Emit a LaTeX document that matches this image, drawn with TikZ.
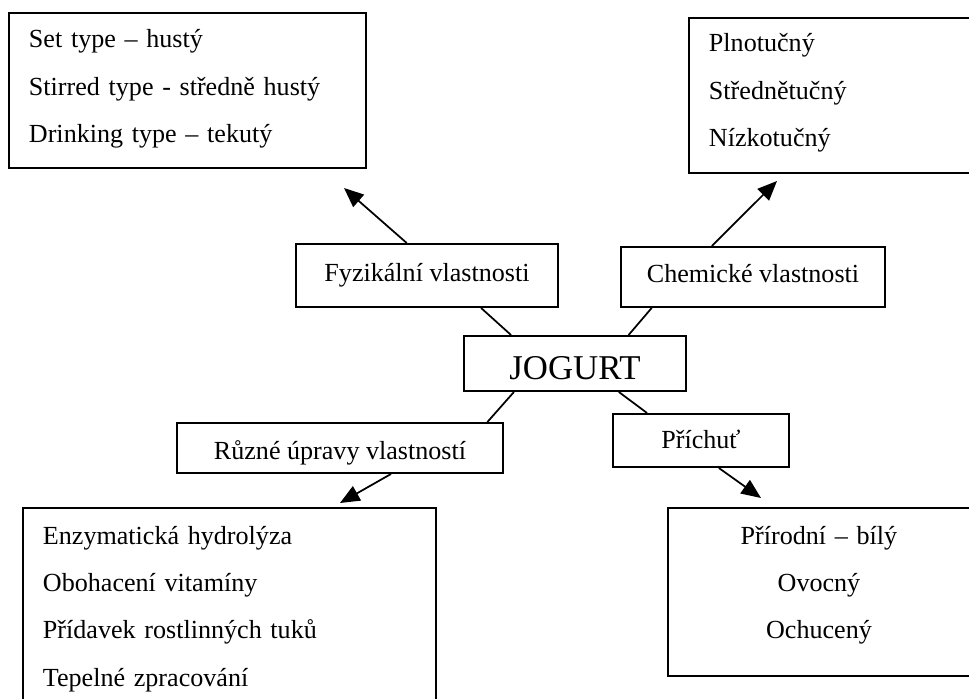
\documentclass[tikz,border=0pt]{standalone}
\usepackage{fontspec}
\setmainfont{Liberation Serif}
\usetikzlibrary{positioning,arrows.meta}

\begin{document}
\begin{tikzpicture}[x=0.46pt, y=-0.46pt,
    prop/.style={rectangle, draw, line width=0.9pt, align=center, inner sep=0pt, text height=8pt, text depth=2.6pt, font=\fontsize{12}{14}\selectfont},
    list/.style={rectangle, draw, line width=0.9pt, anchor=north west, inner xsep=9.2pt, inner ysep=0pt, font=\fontsize{12}{21.8}\selectfont},
    link/.style={line width=0.8pt},
    arrow/.style={-{Triangle[length=9pt, width=7.5pt]}, line width=0.8pt}]

    \clip (0,0) rectangle (969,699);

    % Centre and property boxes
    \node[prop, minimum width=102.1pt, minimum height=25.3pt, text height=14.7pt, text depth=0pt, font=\fontsize{16}{19}\selectfont] (jogurt) at (575,363.5) {JOGURT};
    \node[prop, minimum width=120.5pt, minimum height=29pt] (fyz) at (427,275.5) {Fyzikální vlastnosti};
    \node[prop, minimum width=121.4pt, minimum height=27.6pt] (chem) at (753,277) {Chemické vlastnosti};
    \node[prop, minimum width=150pt, minimum height=23pt, text height=13.5pt] (upravy) at (340,448) {Různé úpravy vlastností};
    \node[prop, minimum width=81pt, minimum height=24.4pt, text height=10.3pt] (prichut) at (701,440.5) {Příchuť};

    % Lists
    \node[list, text width=145.8pt, text height=16.1pt, text depth=55.2pt, align=left] (types) at (8,12)
        {Set type – hustý\\Stirred type - středně hustý\\Drinking type – tekutý};
    \node[list, text width=129.7pt, text height=15.6pt, text depth=55.7pt, align=left] (fat) at (688,17)
        {Plnotučný\\Střednětučný\\Nízkotučný};
    \node[list, text width=171.6pt, text height=16.6pt, text depth=74.5pt, align=left] (treat) at (22,507)
        {Enzymatická hydrolýza\\Obohacení vitamíny\\Přídavek rostlinných tuků\\Tepelné zpracování};
    \node[list, text width=120.5pt, text height=16.6pt, text depth=60.7pt, align=center] (flavour) at (667,507)
        {Přírodní – bílý\\Ovocný\\Ochucený};

    % Arrow tips
    \coordinate (typestip) at (344,188);
    \coordinate (fattip) at (777,181);
    \coordinate (treattip) at (340,503);
    \coordinate (flavourtip) at (761,498);

    % Connections
    \draw[link] (jogurt.156) -- (fyz.-31);
    \draw[link] (jogurt.28) -- (chem.-163.5);
    \draw[link] (jogurt.-155.4) -- (upravy.10.9);
    \draw[link] (jogurt.-33.2) -- (prichut.153.9);

    \draw[arrow] (fyz.122.4) -- (typestip);
    \draw[arrow] (chem.143.1) -- (fattip);
    \draw[arrow] (upravy.-27.5) -- (treattip);
    \draw[arrow] (prichut.-57.3) -- (flavourtip);
\end{tikzpicture}
\end{document}
